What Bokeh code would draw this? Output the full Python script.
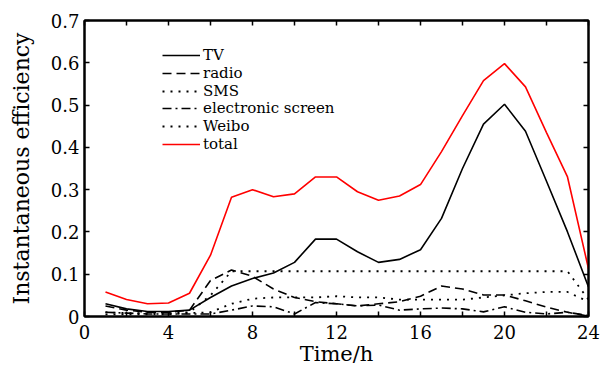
from bokeh.plotting import figure
from bokeh.models import FixedTicker, LinearAxis, Legend, LegendItem, Range1d, CustomJSTickFormatter
from bokeh.embed import file_html
from bokeh.resources import INLINE

hours = list(range(1, 25))
tv = [0.030, 0.018, 0.012, 0.012, 0.015, 0.045, 0.072, 0.090, 0.103, 0.128, 0.183, 0.183,
      0.153, 0.128, 0.135, 0.158, 0.232, 0.350, 0.455, 0.502, 0.438, 0.320, 0.200, 0.070]
radio = [0.025, 0.015, 0.010, 0.010, 0.015, 0.085, 0.110, 0.095, 0.065, 0.045, 0.035, 0.030,
         0.025, 0.030, 0.035, 0.048, 0.072, 0.065, 0.051, 0.051, 0.037, 0.022, 0.010, 0.001]
sms = [0.010, 0.008, 0.008, 0.008, 0.010, 0.050, 0.107, 0.107, 0.107, 0.107, 0.107, 0.107,
       0.107, 0.107, 0.107, 0.107, 0.107, 0.107, 0.107, 0.107, 0.107, 0.107, 0.107, 0.040]
electronic = [0.010, 0.008, 0.006, 0.006, 0.006, 0.006, 0.015, 0.025, 0.023, 0.006, 0.033, 0.030,
              0.025, 0.027, 0.015, 0.018, 0.020, 0.018, 0.011, 0.023, 0.010, 0.006, 0.010, 0.002]
weibo = [0.005, 0.005, 0.005, 0.005, 0.008, 0.010, 0.030, 0.042, 0.045, 0.045, 0.045, 0.048,
         0.045, 0.045, 0.040, 0.040, 0.040, 0.040, 0.045, 0.050, 0.055, 0.058, 0.058, 0.035]
total = [0.058, 0.040, 0.030, 0.032, 0.055, 0.145, 0.282, 0.300, 0.283, 0.290, 0.330, 0.330,
         0.295, 0.275, 0.285, 0.312, 0.390, 0.475, 0.558, 0.598, 0.543, 0.435, 0.330, 0.113]

series_names = ["TV", "radio", "SMS", "electronic screen", "Weibo", "total"]

x_ticks = [0, 4, 8, 12, 16, 20, 24]
x_minor = [2, 6, 10, 14, 18, 22]
y_ticks = [0, 0.1, 0.2, 0.3, 0.4, 0.5, 0.6, 0.7]
y_labels = {0: "0", 0.1: "0.1", 0.2: "0.2", 0.3: "0.3", 0.4: "0.4", 0.5: "0.5", 0.6: "0.6", 0.7: "0.7"}

FONT = "DejaVu Serif"

p = figure(width=606, height=372, output_backend="svg", toolbar_location=None,
           x_range=Range1d(0, 24), y_range=Range1d(0, 0.7),
           min_border_left=84, min_border_right=18, min_border_top=20, min_border_bottom=56)
p.xgrid.visible = False
p.ygrid.visible = False
p.outline_line_color = "black"
p.outline_line_width = 2
p.background_fill_color = "white"
p.border_fill_color = "white"

def style_axis(ax):
    ax.axis_line_width = 2
    ax.axis_line_color = "black"
    ax.major_tick_in = 5
    ax.major_tick_out = 0
    ax.minor_tick_in = 5
    ax.minor_tick_out = 0
    ax.major_tick_line_width = 1.5
    ax.minor_tick_line_width = 1.5
    ax.major_label_text_font = FONT
    ax.major_label_text_font_size = "18px"
    ax.major_label_text_color = "black"
    ax.axis_label_text_font = FONT
    ax.axis_label_text_font_style = "normal"
    ax.axis_label_text_color = "black"

xa = p.xaxis[0]
xa.ticker = FixedTicker(ticks=x_ticks, minor_ticks=x_minor)
xa.axis_label = "Time/h"
xa.axis_label_text_font_size = "21px"
xa.axis_label_standoff = 0
xa.major_label_standoff = 8
style_axis(xa)

ya = p.yaxis[0]
ya.ticker = FixedTicker(ticks=y_ticks)
ya.major_label_overrides = y_labels
ya.axis_label = "Instantaneous efficiency"
ya.axis_label_text_font_size = "22px"
ya.axis_label_standoff = 14
ya.major_label_standoff = 5
style_axis(ya)

blank = CustomJSTickFormatter(code="return '';")
top = LinearAxis(ticker=FixedTicker(ticks=x_ticks, minor_ticks=x_minor), formatter=blank,
                 major_label_standoff=0)
style_axis(top)
p.add_layout(top, "above")
right = LinearAxis(ticker=FixedTicker(ticks=y_ticks), formatter=blank, major_label_standoff=0)
style_axis(right)
p.add_layout(right, "right")

r_tv = p.line(hours, tv, line_color="black", line_width=1.6)
r_radio = p.line(hours, radio, line_color="black", line_width=1.6, line_dash="9 5")
r_sms = p.line(hours, sms, line_color="black", line_width=1.8, line_dash="2 6")
r_el = p.line(hours, electronic, line_color="black", line_width=1.6, line_dash="9 4 2 4")
r_wb = p.line(hours, weibo, line_color="black", line_width=1.8, line_dash="2 6")
r_tot = p.line(hours, total, line_color="red", line_width=1.6)

renderers = [r_tv, r_radio, r_sms, r_el, r_wb, r_tot]
legend_x = 78
legend_top = 252
row_step = 17.8
for i, (name, r) in enumerate(zip(series_names, renderers)):
    lg = Legend(items=[LegendItem(label=name, renderers=[r])],
                location=(legend_x, int(round(legend_top - i * row_step))),
                padding=0, spacing=0, margin=0,
                label_height=16, glyph_height=16, glyph_width=38, label_standoff=3,
                label_text_font=FONT, label_text_font_size="15px", label_text_color="black",
                border_line_color=None, background_fill_alpha=0)
    p.add_layout(lg, "center")

open("out.html", "w").write(file_html(p, INLINE))
